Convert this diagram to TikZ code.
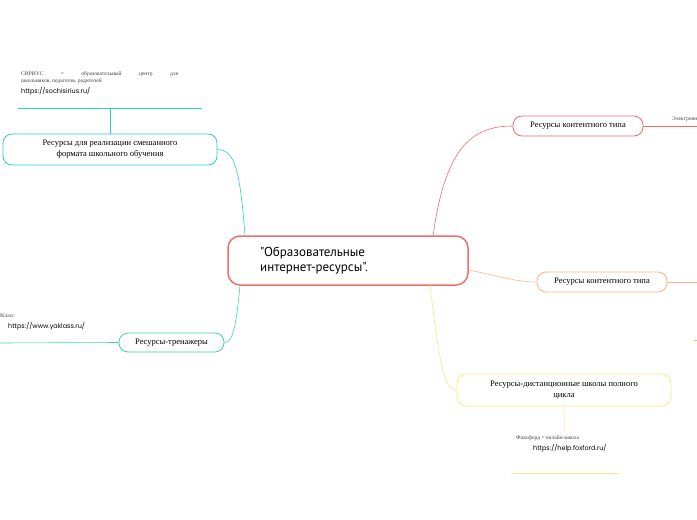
\documentclass[tikz,border=0pt]{standalone}
\usepackage{fontspec}
\setmainfont{Liberation Serif}
\newfontfamily\urlfont{Poppins}
\newfontfamily\mainsans{PT Sans}
\usetikzlibrary{positioning}
\definecolor{cred}{HTML}{F26B6B}
\definecolor{corange}{HTML}{F9B384}
\definecolor{cyellow}{HTML}{F7EA82}
\definecolor{ccyan}{HTML}{2ECAD6}
\definecolor{cgreen}{HTML}{3DD6A8}
\tikzset{
    topic/.style={rounded corners=9pt, draw, thick, fill=white, font=\fontsize{8.5}{11}\selectfont, align=center, inner sep=0},
    note/.style={font=\fontsize{5.5}{7}\selectfont, inner sep=0, anchor=north west, text=black!75},
    link/.style={font=\urlfont\fontsize{6.5}{8}\selectfont, inner sep=0, anchor=north west},
    branch/.style={semithick},
  }
\begin{document}
\begin{tikzpicture}[x=1pt,y=-1pt]
  \useasboundingbox (0,0) rectangle (697,520);
  % main topic
  \node (main) [rounded corners=12pt, draw=cred, line width=1.5pt, minimum width=240pt, minimum height=49pt, inner sep=0] at (348,260.5) {};
  \node (maintxt) [font=\mainsans\fontsize{13}{15}\selectfont, align=left, anchor=west, inner sep=0] at (260,260.5) {"Образовательные\\интернет-ресурсы".};

  % branches right
  \node (cont1) [topic, draw=cred, minimum width=130pt, minimum height=20pt] at (578,126) {Ресурсы контентного типа};
  \node (cont2) [topic, draw=corange, minimum width=130pt, minimum height=20pt] at (602,282) {Ресурсы контентного типа};
  \node (dist) [topic, draw=cyellow, minimum width=214pt, minimum height=32pt] at (564,390) {Ресурсы-дистанционные школы полного\\цикла};
  % branches left
  \node (mixed) [topic, draw=ccyan, minimum width=214pt, minimum height=31pt] at (110,149.5) {Ресурсы для реализации смешанного\\формата школьного обучения};
  \node (train) [topic, draw=cgreen, minimum width=105pt, minimum height=19pt] at (171.5,342.5) {Ресурсы-тренажеры};

  \draw[branch, cred] (433,236) .. controls (445,150) and (470,126) .. (cont1.west);
  \draw[branch, corange] (468,270) .. controls (500,276) and (515,282) .. (cont2.west);
  \draw[branch, cyellow] (430,285) .. controls (440,370) and (445,390) .. (dist.west);
  \draw[branch, ccyan] (245,236) .. controls (240,170) and (235,150) .. (mixed.east);
  \draw[branch, cgreen] (240,285) .. controls (236,330) and (232,343) .. (train.east);

  % leaves
  \coordinate (e1) at (697,126);
  \draw[branch, cred] (cont1.east) -- (e1);
  \node (elec) [note, anchor=south west] at (672,122) {Электронные};
  \coordinate (e2) at (697,282);
  \draw[branch, corange] (cont2.east) -- (e2);
  \coordinate (t1) at (694,340);
  \coordinate (t2) at (697,340);
  \draw[branch, corange] (t1) -- (t2);

  \coordinate (f1) at (565,433);
  \draw[cyellow] (dist.south) -- (f1);
  \node (fox) [note] at (516,435) {Фоксфорд = онлайн-школа};
  \node (foxurl) [link] at (533,444) {https://help.foxford.ru/};
  \coordinate (fa) at (511,473);
  \coordinate (fb) at (618,473);
  \draw[cyellow] (fa) -- (fb);

  \coordinate (s1) at (110,108);
  \coordinate (sa) at (18,108);
  \coordinate (sb) at (202,108);
  \draw[branch, ccyan] (mixed.north) -- (s1);
  \draw[branch, ccyan] (sa) -- (sb);
  \node (sir) [note, align=left] at (21,71) {\makebox[157pt][s]{СИРИУС = образовательный центр для}\\школьников, педагогов, родителей};
  \node (sirurl) [link] at (21,87) {https://sochisirius.ru/};

  \coordinate (y1) at (0,343);
  \draw[branch, cgreen] (train.west) -- (y1);
  \node (yak) [note, anchor=north east] at (15,314) {ЯКласс};
  \node (yakurl) [link] at (8,322) {https://www.yaklass.ru/};
\end{tikzpicture}
\end{document}
